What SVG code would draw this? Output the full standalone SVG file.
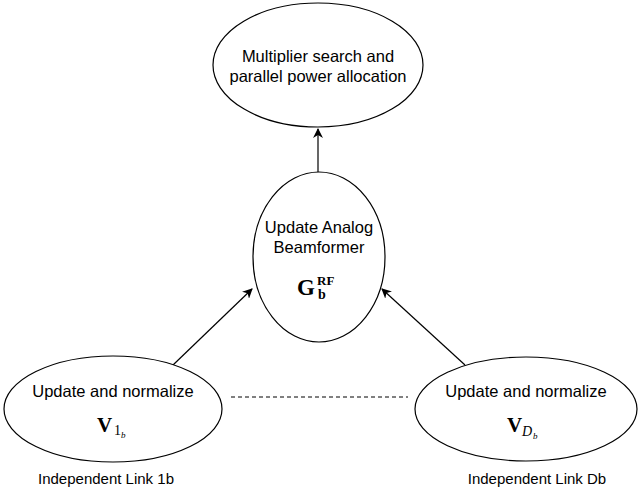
<svg xmlns="http://www.w3.org/2000/svg" width="639" height="493" viewBox="0 0 639 493">
  <style>
    .shape { fill: #ffffff; stroke: #000000; stroke-width: 1.2; }
    .lbl { font-family: "Liberation Sans", Arial, sans-serif; font-size: 16.5px; fill: #000000; text-anchor: middle; }
    .cap { font-family: "Liberation Sans", Arial, sans-serif; font-size: 15px; fill: #000000; text-anchor: middle; }
    .math { font-family: "Liberation Serif", "Times New Roman", serif; fill: #000000; }
    .edge { fill: none; stroke: #000000; stroke-width: 1.2; }
    .dash { fill: none; stroke: #000000; stroke-width: 1; stroke-dasharray: 4 3; }
  </style>
  <defs>
    <marker id="arrow" viewBox="0 0 10 10" refX="9" refY="5" markerWidth="10" markerHeight="10" markerUnits="userSpaceOnUse" orient="auto">
      <path d="M0,0 L10,5 L0,10 L3,5 Z" fill="#000000"/>
    </marker>
  </defs>

  <rect width="639" height="493" fill="#ffffff"/>

  <g id="connectors">
    <line class="edge" x1="318" y1="172" x2="318" y2="129" marker-end="url(#arrow)"/>
    <line class="edge" x1="173" y1="365" x2="252" y2="289" marker-end="url(#arrow)"/>
    <line class="edge" x1="465" y1="365" x2="382" y2="289" marker-end="url(#arrow)"/>
    <line class="dash" x1="231" y1="397" x2="408" y2="397"/>
  </g>

  <g id="power-allocation">
    <ellipse class="shape" cx="318" cy="65" rx="105" ry="62"/>
    <text class="lbl" x="318" y="62">Multiplier search and</text>
    <text class="lbl" x="318" y="82">parallel power allocation</text>
  </g>

  <g id="analog-beamformer">
    <ellipse class="shape" cx="319" cy="257" rx="66" ry="85"/>
    <text class="lbl" x="319" y="233">Update Analog</text>
    <text class="lbl" x="319" y="253">Beamformer</text>
    <text class="math" font-weight="bold" font-size="23" x="297" y="295">G</text>
    <text class="math" font-weight="bold" font-size="13" x="317" y="285">RF</text>
    <text class="math" font-weight="bold" font-size="14" x="318" y="299">b</text>
  </g>

  <g id="link-1b">
    <ellipse class="shape" cx="113" cy="409" rx="109" ry="53"/>
    <text class="lbl" x="113" y="397">Update and normalize</text>
    <text class="math" font-weight="bold" font-size="21" x="97" y="432">V</text>
    <text class="math" font-size="14" x="114" y="435">1</text>
    <text class="math" font-style="italic" font-size="9" x="121" y="438">b</text>
    <text class="cap" x="106" y="484">Independent Link 1b</text>
  </g>

  <g id="link-db">
    <ellipse class="shape" cx="526" cy="409" rx="111" ry="52"/>
    <text class="lbl" x="526" y="397">Update and normalize</text>
    <text class="math" font-weight="bold" font-size="21" x="507" y="432">V</text>
    <text class="math" font-style="italic" font-size="14" x="522" y="436">D</text>
    <text class="math" font-style="italic" font-size="9" x="533" y="439">b</text>
    <text class="cap" x="537" y="484">Independent Link Db</text>
  </g>
</svg>
